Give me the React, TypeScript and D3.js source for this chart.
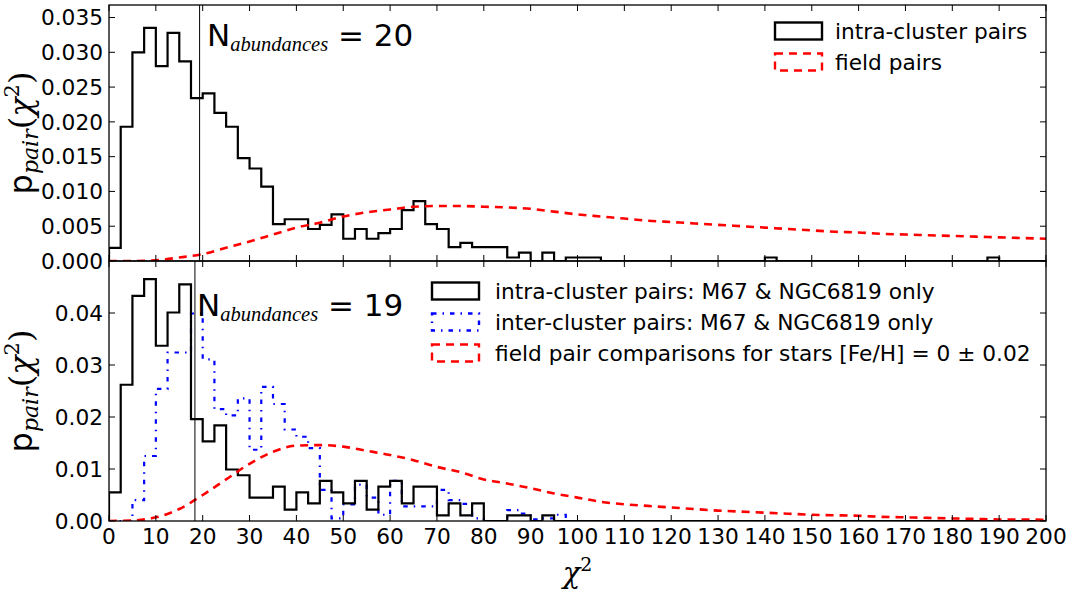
import React from "react";
import * as d3 from "d3";

const W = 1070;
const H = 592;

// histogram bin width in chi^2 units
const BIN = 2.5;

// top panel (N_abundances = 20): intra-cluster pairs, p per 2.5-wide bin starting at 0
const topIntra = [
  0.0019, 0.0193, 0.03, 0.0335, 0.028, 0.0328, 0.0287, 0.0234, 0.0241, 0.0213,
  0.0193, 0.0148, 0.0133, 0.0107, 0.0053, 0.006, 0.006, 0.0046, 0.0052, 0.0067,
  0.0032, 0.0046, 0.0032, 0.004, 0.0046, 0.0073, 0.0086, 0.0053, 0.0046, 0.002,
  0.0026, 0.002, 0.002, 0.002, 0.0005, 0.0012, 0, 0.0012, 0, 0.0005,
  0.0005, 0.0005, 0, 0, 0, 0, 0, 0, 0, 0,
  0, 0, 0, 0, 0, 0, 0.0005, 0, 0, 0,
  0, 0, 0, 0, 0, 0, 0, 0, 0, 0,
  0, 0, 0, 0, 0, 0.0005,
];

// field pairs, sampled along chi^2
const fieldX = [
  0, 5, 10, 15, 20, 25, 30, 35, 40, 45, 50, 55, 60, 65, 70, 75, 80, 85, 90, 95,
  100, 105, 110, 115, 120, 125, 130, 135, 140, 145, 150, 155, 160, 165, 170, 175,
  180, 185, 190, 195, 200,
];
const topField = [
  0, 0, 0.0001, 0.0005, 0.001, 0.0019, 0.0028, 0.0038, 0.0048, 0.0055, 0.0064,
  0.007, 0.0074, 0.0078, 0.0079, 0.0079, 0.0078, 0.0077, 0.0075, 0.0071, 0.0067,
  0.0064, 0.0061, 0.0058, 0.0056, 0.0054, 0.0052, 0.005, 0.0048, 0.0046, 0.0044,
  0.0042, 0.0041, 0.0039, 0.0038, 0.0037, 0.0036, 0.0035, 0.0034, 0.0033, 0.0032,
];

// bottom panel (N_abundances = 19)
const botIntra = [
  0.0055, 0.0262, 0.0433, 0.0465, 0.0337, 0.0401, 0.0455, 0.0196, 0.0153, 0.0184,
  0.0099, 0.0088, 0.0045, 0.0045, 0.0066, 0.0022, 0.0055, 0.0034, 0.0077, 0.0055,
  0.0034, 0.0077, 0.0022, 0.0066, 0.0077, 0.0034, 0.0066, 0.0066, 0.0011, 0.0034,
  0.0011, 0.0034, 0, 0, 0.0011, 0.0011, 0, 0.0011,
];
const botInter = [
  0, 0, 0.004, 0.0125, 0.0254, 0.0324, 0.0324, 0.0399, 0.0311, 0.0215,
  0.0203, 0.0236, 0.0137, 0.0258, 0.0225, 0.0176, 0.0162, 0.014, 0.006, 0.0005,
  0.0032, 0.007, 0.0045, 0.0012, 0.0077, 0.0028, 0.0028, 0.0028, 0.006, 0.004,
  0.0033, 0.0005, 0, 0, 0.0021, 0.0014, 0.0003, 0.0005, 0.0012,
];
const botField = [
  0, 0.0001, 0.0007, 0.0023, 0.005, 0.008, 0.011, 0.0133, 0.0145, 0.0146, 0.0143,
  0.0135, 0.0127, 0.0117, 0.0104, 0.0094, 0.008, 0.0072, 0.0063, 0.0053, 0.0045,
  0.0037, 0.0032, 0.0029, 0.0026, 0.0023, 0.002, 0.0018, 0.0016, 0.0014, 0.0012,
  0.0011, 0.001, 0.0008, 0.0007, 0.0006, 0.0005, 0.0004, 0.0003, 0.0003, 0.0002,
];

// median chi^2 markers
const topMedian = 19.34;
const botMedian = 18.34;

const xTicks = [
  0, 10, 20, 30, 40, 50, 60, 70, 80, 90, 100, 110, 120, 130, 140, 150, 160, 170,
  180, 190, 200,
];
const topYTicks = [0, 0.005, 0.01, 0.015, 0.02, 0.025, 0.03, 0.035];
const botYTicks = [0, 0.01, 0.02, 0.03, 0.04];

const topLegend = ["intra-cluster pairs", "field pairs"];
const botLegend = [
  "intra-cluster pairs: M67 & NGC6819 only",
  "inter-cluster pairs: M67 & NGC6819 only",
  "field pair comparisons for stars [Fe/H] = 0 \u00b1 0.02",
];

const SANS = "DejaVu Sans";
const MATH = "Liberation Serif";
const MATH2 = "DejaVu Serif";
const FS = 21.7;

const left = 109;
const right = 1046;
const topP = { y0: 5, y1: 261 };
const botP = { y0: 261, y1: 521 };

const x = d3.scaleLinear().domain([0, 200]).range([left, right]);
const yTop = d3.scaleLinear().domain([0, 0.0368]).range([topP.y1, topP.y0]);
const yBot = d3.scaleLinear().domain([0, 0.05]).range([botP.y1, botP.y0]);

function stepPoints(vals: number[]): [number, number][] {
  const pts: [number, number][] = [[0, 0]];
  vals.forEach((v, i) => {
    pts.push([i * BIN, v]);
    pts.push([(i + 1) * BIN, v]);
  });
  pts.push([vals.length * BIN, 0]);
  pts.push([200, 0]);
  return pts;
}

function stepPath(vals: number[], y: d3.ScaleLinear<number, number>) {
  return d3
    .line<[number, number]>()
    .x((d) => x(d[0]))
    .y((d) => y(d[1]))(stepPoints(vals)) as string;
}

function curvePath(vals: number[], y: d3.ScaleLinear<number, number>) {
  return d3
    .line<number>()
    .x((_, i) => x(fieldX[i]))
    .y((d) => y(d))
    .curve(d3.curveMonotoneX)(vals) as string;
}

const RED_DASH = "8,6";
const BLUE_DASH = "4.5,6,1.5,6";

function Frame({ y, ticks, fmt, y0, y1 }: any) {
  const tl = 6;
  return (
    <g>
      {xTicks.map((t) => (
        <g key={"x" + t} stroke="#000" strokeWidth={1}>
          <line x1={x(t)} x2={x(t)} y1={y1} y2={y1 - tl} />
          <line x1={x(t)} x2={x(t)} y1={y0} y2={y0 + tl} />
        </g>
      ))}
      {ticks.map((t: number) => (
        <g key={"y" + t}>
          <line x1={left} x2={left + tl} y1={y(t)} y2={y(t)} stroke="#000" />
          <line x1={right} x2={right - tl} y1={y(t)} y2={y(t)} stroke="#000" />
          <text
            x={left - 6}
            y={y(t)}
            dy="0.36em"
            textAnchor="end"
            fontFamily={SANS}
            fontSize={FS}
          >
            {fmt(t)}
          </text>
        </g>
      ))}
      <rect
        x={left}
        y={y0}
        width={right - left}
        height={y1 - y0}
        fill="none"
        stroke="#000"
        strokeWidth={1.3}
      />
    </g>
  );
}

function YLabel({ cy }: { cy: number }) {
  return (
    <text transform={`translate(32,${cy}) rotate(-90)`} textAnchor="middle" fontSize={32}>
      <tspan fontFamily={SANS}>p</tspan>
      <tspan fontFamily={MATH2} fontStyle="italic" fontSize={22} dy={6}>
        pair
      </tspan>
      <tspan fontFamily={MATH2} dy={-6}>(</tspan>
      <tspan fontFamily={MATH2} fontStyle="italic">
        χ
      </tspan>
      <tspan fontFamily={MATH2} fontSize={21} dy={-13}>
        2
      </tspan>
      <tspan fontFamily={MATH2} dy={13}>)</tspan>
    </text>
  );
}

function NLabel({ x0, base, n }: { x0: number; base: number; n: number }) {
  return (
    <text x={x0} y={base} fontSize={31} fontFamily={SANS}>
      <tspan>N</tspan>
      <tspan fontFamily={MATH} fontStyle="italic" fontSize={20.5} dy={5}>
        abundances
      </tspan>
      <tspan dy={-5}>{" = " + n}</tspan>
    </text>
  );
}

function Handle({ x0, cy, stroke, dash }: any) {
  return (
    <rect
      x={x0}
      y={cy - 8.5}
      width={47}
      height={17}
      fill="none"
      stroke={stroke}
      strokeWidth={2.4}
      strokeDasharray={dash}
    />
  );
}

export default function App() {
  const fmt3 = d3.format(".3f");
  const fmt2 = d3.format(".2f");
  return (
    <svg
      width={W}
      height={H}
      style={{ position: "absolute", left: 0, top: 0, background: "#fff" }}
    >
      <defs>
        <clipPath id="clipTop">
          <rect x={left} y={topP.y0} width={right - left} height={topP.y1 - topP.y0} />
        </clipPath>
        <clipPath id="clipBot">
          <rect x={left} y={botP.y0} width={right - left} height={botP.y1 - botP.y0} />
        </clipPath>
      </defs>

      {/* top panel */}
      <g clipPath="url(#clipTop)" fill="none" strokeWidth={2.2}>
        <path d={stepPath(topIntra, yTop)} stroke="#000" />
        <path d={curvePath(topField, yTop)} stroke="#ff0000" strokeWidth={2.6} strokeDasharray={RED_DASH} />
        <line x1={x(topMedian)} x2={x(topMedian)} y1={topP.y0} y2={topP.y1} stroke="#000" strokeWidth={1} />
      </g>
      <Frame y={yTop} ticks={topYTicks} fmt={fmt3} y0={topP.y0} y1={topP.y1} />

      {/* bottom panel */}
      <g clipPath="url(#clipBot)" fill="none" strokeWidth={2.2}>
        <path d={stepPath(botInter, yBot)} stroke="#0000ff" strokeDasharray={BLUE_DASH} />
        <path d={stepPath(botIntra, yBot)} stroke="#000" />
        <path d={curvePath(botField, yBot)} stroke="#ff0000" strokeWidth={2.6} strokeDasharray={RED_DASH} />
        <line x1={x(botMedian)} x2={x(botMedian)} y1={botP.y0} y2={botP.y1} stroke="#000" strokeWidth={1} />
      </g>
      <Frame y={yBot} ticks={botYTicks} fmt={fmt2} y0={botP.y0} y1={botP.y1} />

      {xTicks.map((t) => (
        <text
          key={"xl" + t}
          x={x(t)}
          y={544}
          textAnchor="middle"
          fontFamily={SANS}
          fontSize={FS}
        >
          {t}
        </text>
      ))}

      <text x={(left + right) / 2} y={583} textAnchor="middle" fontSize={29} fontFamily={MATH2}>
        <tspan fontStyle="italic">χ</tspan>
        <tspan fontSize={19} dy={-12}>
          2
        </tspan>
      </text>

      <YLabel cy={133} />
      <YLabel cy={391} />

      <NLabel x0={207} base={46} n={20} />
      <NLabel x0={197} base={316} n={19} />

      {/* legends */}
      <Handle x0={775} cy={31} stroke="#000" />
      <Handle x0={775} cy={62} stroke="#ff0000" dash={RED_DASH} />
      {topLegend.map((s, i) => (
        <text key={s} x={835} y={31 + i * 31} dy="0.36em" fontFamily={SANS} fontSize={FS}>
          {s}
        </text>
      ))}

      <Handle x0={432} cy={291} stroke="#000" />
      <Handle x0={432} cy={322} stroke="#0000ff" dash={BLUE_DASH} />
      <Handle x0={432} cy={353} stroke="#ff0000" dash={RED_DASH} />
      {botLegend.map((s, i) => (
        <text key={s} x={495} y={291 + i * 31} dy="0.36em" fontFamily={SANS} fontSize={FS}>
          {s}
        </text>
      ))}
    </svg>
  );
}
